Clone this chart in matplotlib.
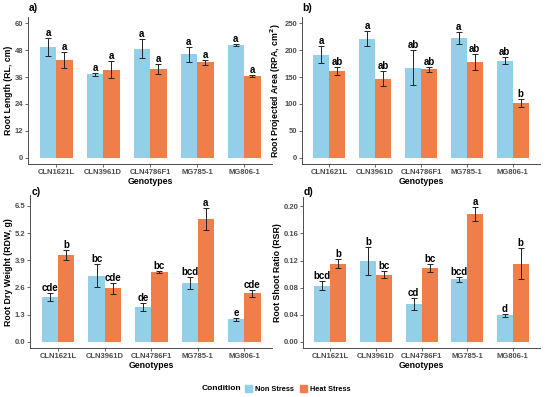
import numpy as np
import matplotlib
matplotlib.use("Agg")
import matplotlib.pyplot as plt
from matplotlib.patches import Patch

plt.rcParams['font.family'] = ['Liberation Sans', 'DejaVu Sans']

genotypes = ["CLN1621L", "CLN3961D", "CLN4786F1", "MG785-1", "MG806-1"]

# a) root length
rl_ns = [49.3, 37.2, 48.7, 46.2, 50.3]
rl_ns_err = [4.1, 0.6, 4.2, 3.3, 0.6]
rl_hs = [43.6, 39.3, 39.5, 42.6, 36.3]
rl_hs_err = [3.4, 3.7, 2.2, 1.1, 0.5]
rl_ns_let = ["a", "a", "a", "a", "a"]
rl_hs_let = ["a", "a", "a", "a", "a"]

# b) root projected area
rpa_ns = [192, 221, 167.5, 222.7, 180]
rpa_ns_err = [16, 14, 33, 12, 6.5]
rpa_hs = [161, 146.5, 164.5, 177.5, 101.7]
rpa_hs_err = [7, 14, 5, 15, 7]
rpa_ns_let = ["a", "a", "ab", "a", "ab"]
rpa_hs_let = ["ab", "ab", "ab", "ab", "b"]

# c) root dry weight
rdw_ns = [2.13, 3.17, 1.66, 2.80, 1.08]
rdw_ns_err = [0.2, 0.53, 0.2, 0.29, 0.07]
rdw_hs = [4.16, 2.55, 3.33, 5.86, 2.32]
rdw_hs_err = [0.24, 0.25, 0.05, 0.52, 0.18]
rdw_ns_let = ["cde", "bc", "de", "bcd", "e"]
rdw_hs_let = ["b", "cde", "bc", "a", "cde"]

# d) root shoot ratio
rsr_ns = [0.083, 0.1194, 0.056, 0.0924, 0.0393]
rsr_ns_err = [0.0066, 0.021, 0.009, 0.004, 0.002]
rsr_hs = [0.1155, 0.0993, 0.109, 0.1887, 0.1155]
rsr_hs_err = [0.0064, 0.005, 0.0057, 0.0098, 0.023]
rsr_ns_let = ["bcd", "b", "cd", "bcd", "d"]
rsr_hs_let = ["b", "bc", "bc", "a", "b"]

c_ns = "#93CFE8"
c_hs = "#F07E4A"
grey = "#4D4D4D"

fig = plt.figure(figsize=(5.5, 3.97), dpi=100)
W, H = 550.0, 397.0

panels = [
    ("a)", (29, 8), [0.051, 0.587, 0.444, 0.370], rl_ns, rl_ns_err, rl_hs, rl_hs_err,
     rl_ns_let, rl_hs_let, "Root Length (RL, cm)", [0, 12, 24, 36, 48, 60], "%d", (-2.7, 62.7)),
    ("b)", (302, 8), [0.549, 0.587, 0.433, 0.370], rpa_ns, rpa_ns_err, rpa_hs, rpa_hs_err,
     rpa_ns_let, rpa_hs_let, "Root Projected Area (RPA, cm$^\\mathbf{2}$)", [0, 50, 100, 150, 200, 250], "%d", (-11.7, 261.7)),
    ("c)", (32, 192), [0.055, 0.123, 0.440, 0.385], rdw_ns, rdw_ns_err, rdw_hs, rdw_hs_err,
     rdw_ns_let, rdw_hs_let, "Root Dry Weight (RDW, g)", [0, 1.3, 2.6, 3.9, 5.2, 6.5], "%.1f", (-0.3, 7.0)),
    ("d)", (304, 192), [0.551, 0.123, 0.431, 0.380], rsr_ns, rsr_ns_err, rsr_hs, rsr_hs_err,
     rsr_ns_let, rsr_hs_let, "Root Shoot Ratio (RSR)", [0, 0.04, 0.08, 0.12, 0.16, 0.20], "%.2f", (-0.0093, 0.2133)),
]

x = np.arange(len(genotypes))
w = 0.35

for tag, tpos, pos, ns, ns_e, hs, hs_e, ns_l, hs_l, ylab, yt, fmt, ylim in panels:
    ax = fig.add_axes(pos)
    ax.bar(x - w / 2, ns, w, color=c_ns)
    ax.bar(x + w / 2, hs, w, color=c_hs)
    ax.errorbar(x - w / 2, ns, yerr=ns_e, fmt="none", ecolor="#222222", elinewidth=0.7, capsize=2.5, capthick=0.7)
    ax.errorbar(x + w / 2, hs, yerr=hs_e, fmt="none", ecolor="#222222", elinewidth=0.7, capsize=2.5, capthick=0.7)
    for i in range(len(genotypes)):
        ax.text(x[i] - w / 2, ns[i] + ns_e[i], ns_l[i], ha="center", va="bottom",
                fontsize=7, fontweight="bold")
        ax.text(x[i] + w / 2, hs[i] + hs_e[i], hs_l[i], ha="center", va="bottom",
                fontsize=7, fontweight="bold")
    ax.set_xlim(-0.6, 4.6)
    ax.set_ylim(*ylim)
    ax.set_xticks(x)
    ax.set_xticklabels(genotypes, fontsize=5.5, fontweight="bold", color=grey)
    ax.set_yticks(yt)
    ax.set_yticklabels([fmt % v for v in yt], fontsize=5.5, fontweight="bold", color=grey)
    ax.tick_params(length=2, width=0.6, color=grey, pad=1.5)
    ax.set_xlabel("Genotypes", fontsize=6.3, fontweight="bold", labelpad=0.5)
    ax.set_ylabel(ylab, fontsize=6.3, fontweight="bold", labelpad=1)
    for s in ["top", "right"]:
        ax.spines[s].set_visible(False)
    for s in ["left", "bottom"]:
        ax.spines[s].set_color(grey)
        ax.spines[s].set_linewidth(0.7)
    fig.text(tpos[0] / W, 1 - tpos[1] / H, tag, fontsize=7.5, fontweight="bold",
             ha="left", va="center")

# legend: title on the left, entries to its right
fig.text(202 / W, 1 - 389 / H, "Condition", fontsize=6, fontweight="bold", ha="left", va="center")
handles = [Patch(color=c_ns, label="Non Stress"), Patch(color=c_hs, label="Heat Stress")]
fig.legend(handles=handles, loc="center left", bbox_to_anchor=(245 / W, 1 - 389 / H), ncol=2,
           frameon=False, prop={"size": 5.3, "weight": "bold"},
           handlelength=1, handleheight=1, handletextpad=0.4, columnspacing=0.8,
           borderpad=0, borderaxespad=0)

fig.savefig("out.png", dpi=100)
